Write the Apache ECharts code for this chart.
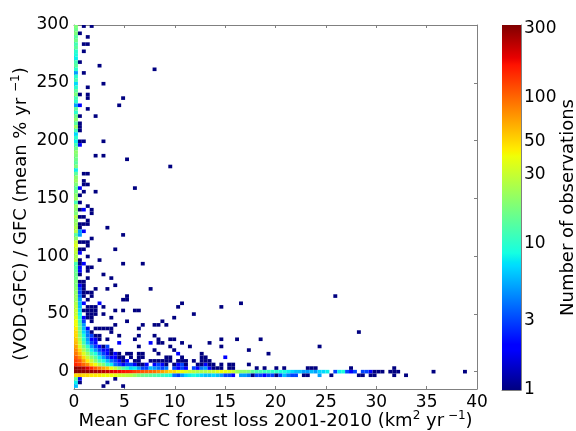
<!DOCTYPE html>
<html><head><meta charset="utf-8">
<style>html,body{margin:0;padding:0;background:#fff}#c{width:576px;height:431px}</style>
<script src="https://cdn.jsdelivr.net/npm/echarts@6/dist/echarts.min.js"></script>
</head><body><div id="c"></div>
<script>
// histogram bin sizes (data units)
const binW = 0.39, binH = 3.115;
const xTicks = [0,5,10,15,20,25,30,35,40];
const yTicks = [0,50,100,150,200,250,300];
const cbTicks = [1,3,10,30,50,100,300];
// first column, from row 96 (top) down to row 31
const column0 = [18,16,18,14,16,12,14,10,9,8,12,14,10,5,10,12,7,10,14,18,12,10,5,14,10,16,20,14,22,12,7,10,8,12,16,20,18,16,14,18,8,14,20,22,18,14,16,20,22,12,22,20,18,26,20,22,25,26,14,20,30,35,30,28,24,26];
const lowColumn0 = [[-2,15],[-3,8],[-4,6]];
// [row, first column, counts]
const denseRows = [
[0,0,[300,300,290,280,270,260,250,240,220,200,190,180,170,160,150,130,120,110,105,100,95,80,70,60,50,50,40,40,35,30,28,25,25,25,28,30,35,40,38,35,30,22,20,20,18,14,12,12,11,11,10,10,9,9,8,7,6,6,5,5,6,5,7,7,8,0,3,8,9,3,2,3,0,3,3,2,1,1,1,0,1,1,1]],
[-1,0,[50,55,50,50,45,45,45,40,40,40,38,32,30,28,26,22,18,16,15,14,13,12,11,10,9,4,3,5,7,8,9,8,7,6,6,7,6,5,3,3,2,0,5,5,4,1,3,3,2,3,3,1,3,6,4,3,3,0,1,1,0,0,5,0,0,1]],
[1,0,[300,280,250,200,150,110,90,70,60,40,30,20,14,10,7,8,5,3,3,6,5,4,3,4,0,3,2,3,2,0,3,2,4,5,2,1,1,1,0,1,1]],
[2,0,[150,130,100,80,50,40,25,18,10,8,4,3,2,3,3,2,1,1,2,0,2,3,2,1,0,1,2,3,1,0,0,1,1,2,1,1,0,1,0,1,1]],
[3,0,[130,110,70,45,30,20,12,9,6,4,3,2,1,2,0,1,1,0,0,1,1,1,1,1,1,0,1,1,1,0,1,0,1,1,1]],
[4,0,[110,80,50,30,20,14,8,5,3,2,2,1,1,0,1,0,1,1]],
[5,0,[90,60,35,22,12,9,5,3,2,1,2,1,0,1,1,0,1,1]],
[6,0,[80,50,25,15,8,5,3,2,2,1]],
[7,0,[70,35,18,10,5,3,2,1,3]],
[8,0,[60,30,12,6,3,2]],
[9,0,[55,25,10,5,2,2,1,0,1]],
[10,0,[50,20,9,4,3,1,1]],
[11,0,[50,18,7,4,1]],
[12,0,[45,16,6,2,0,1,1,1,1,1]],
[13,0,[40,14,5]],
[14,0,[40,12,3,0,1]],
[15,0,[35,10,2,1,1]],
[16,0,[30,8,0,1,1,1]],
[17,0,[30,7,1,1,1,1]],
[18,0,[28,6,0,1,1,1]],
[19,0,[25,6,2]],
[20,0,[22,5]],
[21,0,[22,4,1]],
[22,0,[20,3,1,1,1]],
[23,0,[20,3,1]],
[24,0,[18,2,1]],
[25,0,[18,1,1]],
[26,0,[16]],
[27,0,[16,1]],
[28,0,[15,2]],
[29,0,[14,2,0,1,1]],
[30,0,[12,1,2]]
];
// [column, row, count] for the lighter (count above one) isolated cells
const pairCells = [[1,74,2],[1,63,2],[1,51,2],[2,45,2],[2,39,2],[1,39,5],[1,38,5],[1,33,2],[19,8,2],[11,8,2],[26,5,2],[38,4,2],[6,19,2],[1,-2,2],[66,0,3]];
// [row, columns] of cells holding one observation
const singleRows = [
[96,[2,4]],[94,[1]],[93,[3]],[91,[2,3]],[89,[2]],[86,[1]],[85,[6]],[84,[20]],[83,[2]],[80,[7]],[79,[3]],[77,[1,3]],[76,[3,12]],[74,[11]],[73,[3]],[71,[1,5]],[69,[1]],[68,[1]],[67,[1]],[64,[1,2,7]],
[60,[5,7]],[59,[13]],[57,[24]],[55,[2,3]],[53,[2]],[52,[2,3]],[51,[15]],[50,[2,5]],[49,[1]],[47,[1]],[46,[3]],[45,[1,4]],[44,[4]],[43,[1,2]],[42,[3]],[41,[1,2,3]],[40,[1,8]],[38,[12]],[37,[4]],[36,[1,2,3]],[35,[3]],[34,[1,2,10]],[32,[3]],[31,[1,6]],[30,[12,17]],[29,[3,4]],
[28,[3]],[27,[7]],[26,[3,9]],[25,[1,2]],[24,[10,1,2]],[23,[5,8,19]],[22,[2,3,4]],[21,[4,13,66]],[20,[3,12,13]],[19,[27,42]],[18,[3,4,5,7,26,37]],[17,[3,4,5,10,12,15,16]],[16,[3,4,5,7,30]],[15,[3,4,9,25]],[14,[4,13,22]],[13,[10,17,20,21,23]],[12,[5,6,7,8,9,16]],[11,[4,9,72]],[10,[11,16,20]],
[9,[8,15,21,24,25,37,41,47]],[8,[21,22,27,34]],[7,[16,24,29,37,62]],[6,[20,25,44]],[5,[14,16,17,21,32,49]],[4,[14,16,17,23,24,27,32,33]],[3,[15,16,19,20,21,22,23,24,26,27,28,30,32,33,34]],[2,[37,39,40,44]],[1,[46,48,51,53,59,60,61,70,81]],
[0,[91,99]],[-1,[65,72,73,75,76,81,84]],[-2,[10]],[-3,[1,8]],[-4,[7,12]]
];

// assemble cells
const cells = new Map();
function put(i,j,n){ if(n>0){ const k=i+'_'+j; cells.set(k,[(i+0.5)*binW,j*binH,Math.max(n,(cells.get(k)||[0,0,0])[2])]); } }
column0.forEach((n,k)=>put(0,96-k,n));
lowColumn0.forEach(([j,n])=>put(0,j,n));
denseRows.forEach(([j,s,a])=>a.forEach((n,k)=>put(s+k,j,n)));
singleRows.forEach(([j,a])=>a.forEach(i=>put(i,j,1)));
pairCells.forEach(([i,j,n])=>put(i,j,n));
const data = [...cells.values()];

function lerp(p,t){ for(let k=1;k<p.length;k++){ if(t<=p[k][0]){ const [a,b]=p[k-1],[c,d]=p[k]; return b+(d-b)*(t-a)/(c-a);} } return p[p.length-1][1]; }
const R=[[0,0],[.35,0],[.66,1],[.89,1],[1,.5]],G=[[0,0],[.125,0],[.375,1],[.64,1],[.91,0],[1,0]],B=[[0,.5],[.11,1],[.34,1],[.65,0],[1,0]];
function jet(t){ const f=p=>Math.round(255*lerp(p,t)); return `rgb(${f(R)},${f(G)},${f(B)})`; }
const logMax = 2.5;
const colorOf = n => jet(Math.min(1,Math.log10(n)/logMax));
const gradStops = [0,.11,.125,.34,.35,.375,.5,.64,.65,.66,.89,.91,1].map(t=>({offset:t,color:jet(t)}));

const font = 'DejaVu Sans', frame = '#808080', txt = '#000';
const chart = echarts.init(document.getElementById('c'),null,{renderer:'canvas'});
const baseAxis = {axisLine:{show:true,onZero:false,lineStyle:{color:frame,width:1}},axisTick:{show:true,inside:true,length:3,lineStyle:{color:frame,width:1}},splitLine:{show:false},axisLabel:{show:false}};
const sup = {fontSize:12,fontFamily:font,color:txt,verticalAlign:'top',lineHeight:22,padding:[0,0,7,0]};
const nm = {fontSize:18,fontFamily:font,color:txt,lineHeight:22};
chart.setOption({
  animation:false,
  backgroundColor:'#fff',
  grid:[{left:74,right:99,top:25,bottom:42,show:false,outerBoundsMode:'none'},{left:502,right:55,top:25,bottom:41,show:false,outerBoundsMode:'none'}],
  xAxis:[
    {...baseAxis,type:'value',gridIndex:0,min:0,max:40,interval:5,position:'bottom',
     axisLabel:{show:true,color:txt,fontFamily:font,fontSize:17,margin:5,customValues:xTicks,formatter:v=>String(v)},
     axisTick:{...baseAxis.axisTick,customValues:xTicks},
     name:'{n|Mean GFC forest loss 2001-2010 (km}{s|2}{n| yr}{s| −1}{n|)}',nameLocation:'middle',nameGap:21,nameMoveOverlap:false,nameTextStyle:{rich:{n:nm,s:sup}}},
    {...baseAxis,type:'value',gridIndex:0,min:0,max:40,interval:5,position:'top',axisTick:{...baseAxis.axisTick,customValues:xTicks}},
    {type:'value',gridIndex:1,min:0,max:1,position:'bottom',axisLine:{show:true,onZero:false,lineStyle:{color:frame}},axisTick:{show:false},axisLabel:{show:false},splitLine:{show:false}}
  ],
  yAxis:[
    {...baseAxis,type:'value',gridIndex:0,min:-15,max:300,position:'left',
     axisLabel:{show:true,color:txt,fontFamily:font,fontSize:17,margin:5,customValues:yTicks,formatter:v=>String(v)},
     axisTick:{...baseAxis.axisTick,customValues:yTicks},
     name:'{n|(VOD-GFC) / GFC (mean % yr }{s|−1}{n|)}',nameLocation:'middle',nameGap:42,nameMoveOverlap:false,nameRotate:90,nameTextStyle:{padding:[0,14,0,0],rich:{n:nm,s:sup}}},
    {...baseAxis,type:'value',gridIndex:0,min:-15,max:300,position:'right',axisTick:{...baseAxis.axisTick,customValues:yTicks}},
    {type:'value',gridIndex:1,min:0,max:logMax,position:'right',
     axisLine:{show:true,onZero:false,lineStyle:{color:frame}},
     axisTick:{show:true,inside:true,length:3,lineStyle:{color:frame},customValues:cbTicks.map(v=>Math.log10(v))},
     axisLabel:{show:true,color:txt,fontFamily:font,fontSize:17,margin:3,customValues:cbTicks.map(v=>Math.log10(v)),formatter:v=>String(Math.round(Math.pow(10,v)))},
     splitLine:{show:false},
     name:'Number of observations',nameLocation:'middle',nameGap:38,nameMoveOverlap:false,nameRotate:90,nameTextStyle:{color:txt,fontFamily:font,fontSize:18}}
  ],
  series:[
    {type:'custom',xAxisIndex:0,yAxisIndex:0,coordinateSystem:'cartesian2d',clip:true,silent:true,
     data:data,encode:{x:0,y:1},
     renderItem:(p,api)=>{
       const c=api.coord([api.value(0),api.value(1)]),s=api.size([binW,binH]);
       return {type:'rect',shape:{x:c[0]-s[0]/2,y:c[1]-s[1]/2,width:s[0],height:s[1]},style:{fill:colorOf(api.value(2))}};
     }},
    {type:'custom',xAxisIndex:2,yAxisIndex:2,coordinateSystem:'cartesian2d',silent:true,z:1,
     data:[[0,0,1,logMax]],encode:{x:[0,2],y:[1,3]},
     renderItem:(p,api)=>{
       const a=api.coord([0,0]),b=api.coord([1,logMax]);
       return {type:'rect',shape:{x:a[0],y:b[1],width:b[0]-a[0],height:a[1]-b[1]},
         style:{fill:new echarts.graphic.LinearGradient(0,1,0,0,gradStops)}};
     }}
  ]
});
</script></body></html>
